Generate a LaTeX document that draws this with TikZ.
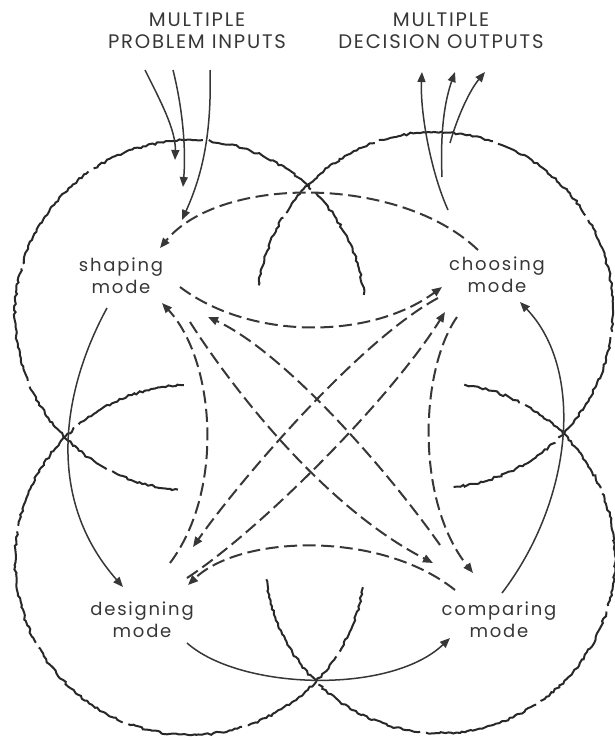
\documentclass[tikz,border=0pt]{standalone}
\usepackage{fontspec}
\usepackage{tikz}
\usetikzlibrary{arrows.meta, decorations.pathmorphing, calc}
\setmainfont{Poppins}
\newfontfamily\modefont[LetterSpace=10]{Poppins}
\newfontfamily\headfont[LetterSpace=9]{Poppins}
\definecolor{inkgray}{RGB}{55, 55, 55}
\definecolor{ringgray}{RGB}{40, 40, 40}

\begin{document}
\begin{tikzpicture}[x=0.5pt, y=-0.5pt,
    modebox/.style={align=center, inner sep=0pt, text=inkgray,
      font=\modefont\fontsize{9}{11}\selectfont},
    headbox/.style={align=center, inner sep=0pt, text=inkgray,
      font=\headfont\fontsize{9.8}{11.2}\selectfont},
    ring/.style={ringgray, line width=1pt, decorate,
      decoration={random steps, segment length=1.5pt, amplitude=0.55pt},
      dash pattern=on 60pt off 3pt},
    flow/.style={inkgray, line width=0.75pt, -{Triangle[length=5pt, width=4pt]}},
    swap/.style={inkgray, line width=1pt, dash pattern=on 6.5pt off 2.8pt,
      -{Triangle[length=5pt, width=4pt]}}]
  \useasboundingbox (0,0) rectangle (615,741);

  % headings
  \node[headbox] (inputs) at (197,31) {MULTIPLE\\PROBLEM INPUTS};
  \node[headbox] (outputs) at (441,31) {MULTIPLE\\DECISION OUTPUTS};

  % the four modes
  \node[modebox] (shaping) at (121,276) {shaping\\mode};
  \node[modebox] (choosing) at (497,275) {choosing\\mode};
  \node[modebox] (designing) at (142,620) {designing\\mode};
  \node[modebox] (comparing) at (499,620) {comparing\\mode};

  % overlapping rings
  \draw[ring] (190,315) ++(6.6:87.5pt) arc[start angle=6.6, end angle=266, radius=87.5pt];
  \draw[ring] (435,310) ++(-84:89pt) arc[start angle=-84, end angle=172, radius=89pt];
  \draw[ring] (190,560) ++(92:87.5pt) arc[start angle=92, end angle=351, radius=87.5pt];
  \draw[ring] (440,558) ++(187:87.5pt) arc[start angle=187, end angle=442, radius=87.5pt];

  % inputs and outputs
  \coordinate (in1) at (145,70);
  \coordinate (in2) at (173,70);
  \coordinate (in3) at (210,70);
  \coordinate (out1) at (422,72);
  \coordinate (out2) at (455,72);
  \coordinate (out3) at (485,72);
  \draw[flow] (in1) .. controls (160,100) and (176,130) .. ([shift={(54,-116)}]shaping.center);
  \draw[flow] (in2) .. controls (183,110) and (186,150) .. ([shift={(62,-89)}]shaping.center);
  \draw[flow] (in3) .. controls (212,140) and (200,180) .. ([shift={(61,-56)}]shaping.center);
  \draw[flow] ([shift={(-49,-65)}]choosing.center) .. controls (430,170) and (420,110) .. (out1);
  \draw[flow] ([shift={(-55,-98)}]choosing.center) .. controls (440,130) and (445,100) .. (out2);
  \draw[flow] ([shift={(-47,-132)}]choosing.center) .. controls (458,115) and (470,90) .. (out3);

  % solid cycle
  \draw[flow] ([shift={(-14,32)}]shaping.center) .. controls (65,385) and (42,495) .. ([shift={(-19,-33)}]designing.center);
  \draw[flow] ([shift={(45,23)}]designing.center) .. controls (240,690) and (390,695) .. ([shift={(-49,18)}]comparing.center);
  \draw[flow] ([shift={(3,-27)}]comparing.center) .. controls (573,500) and (585,370) .. ([shift={(23,27)}]choosing.center);

  % dashed returns
  \draw[swap] ([shift={(-19,-25)}]choosing.center) .. controls (400,175) and (220,175) .. ([shift={(39,-28)}]shaping.center);
  \draw[swap] ([shift={(59,11)}]shaping.center) .. controls (250,340) and (370,340) .. ([shift={(-55,12)}]choosing.center);
  \draw[swap] ([shift={(-44,-30)}]comparing.center) .. controls (380,530) and (240,535) .. ([shift={(46,-35)}]designing.center);
  \draw[swap] ([shift={(28,-57)}]designing.center) .. controls (225,490) and (215,360) .. ([shift={(41,27)}]shaping.center);
  \draw[swap] ([shift={(-40,42)}]choosing.center) .. controls (420,370) and (415,500) .. ([shift={(-26,-47)}]comparing.center);
  \draw[swap] ([shift={(-59,-75)}]comparing.center) .. controls (380,460) and (280,350) .. ([shift={(87,41)}]shaping.center);
  \draw[swap] ([shift={(69,46)}]shaping.center) .. controls (240,400) and (330,510) .. ([shift={(-66,-57)}]comparing.center);
  \draw[swap] ([shift={(-59,23)}]choosing.center) .. controls (360,340) and (240,480) .. ([shift={(51,-73)}]designing.center);
  \draw[swap] ([shift={(45,-42)}]designing.center) .. controls (260,530) and (390,400) .. ([shift={(-52,37)}]choosing.center);
\end{tikzpicture}
\end{document}
